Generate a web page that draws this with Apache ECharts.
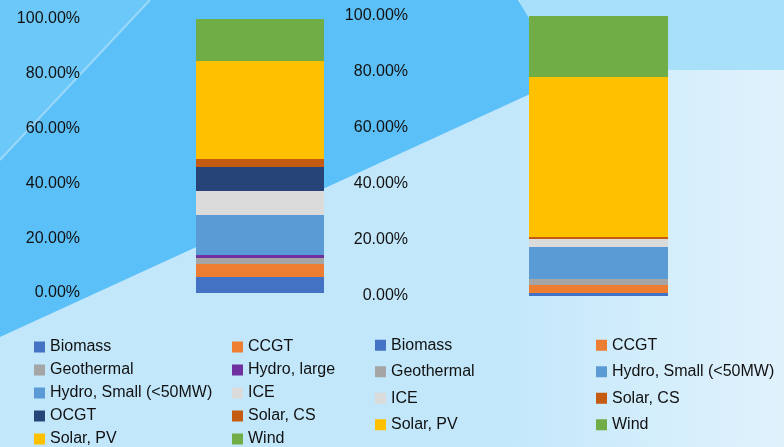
<!DOCTYPE html>
<html>
<head>
    <meta charset="utf-8">
    <script src="https://cdn.jsdelivr.net/npm/echarts@6/dist/echarts.min.js"></script>
    <style>
        html, body { margin: 0; padding: 0; }
    </style>
</head>
<body>
    <div id="main" style="width:784px;height:447px;"></div>
    <script type="text/javascript">
        // 数据
        var leftNames = ['Biomass', 'CCGT', 'Geothermal', 'Hydro, large', 'Hydro, Small (<50MW)',
                         'ICE', 'OCGT', 'Solar, CS', 'Solar, PV', 'Wind'];
        var leftValues = [5.8, 4.8, 2.2, 1.1, 14.6, 8.7, 8.8, 2.9, 35.8, 15.3];

        var rightNames = ['Biomass', 'CCGT', 'Geothermal', 'Hydro, Small (<50MW)',
                          'ICE', 'Solar, CS', 'Solar, PV', 'Wind'];
        var rightValues = [1.1, 2.8, 2.2, 11.4, 2.9, 0.7, 57.1, 21.8];

        var yTicks = [0, 20, 40, 60, 80, 100];

        var colors = {
            'Biomass': '#4472C4',
            'CCGT': '#ED7D31',
            'Geothermal': '#A5A5A5',
            'Hydro, large': '#7030A0',
            'Hydro, Small (<50MW)': '#5B9BD5',
            'ICE': '#DBDBDB',
            'OCGT': '#264478',
            'Solar, CS': '#C55A11',
            'Solar, PV': '#FFC000',
            'Wind': '#70AD47'
        };

        var myChart = echarts.init(document.getElementById('main'));

        function makeSeries(names, values, idx) {
            return names.map(function (n, i) {
                return {
                    name: n,
                    type: 'bar',
                    stack: 'total' + idx,
                    xAxisIndex: idx,
                    yAxisIndex: idx,
                    barWidth: '100%',
                    itemStyle: { color: colors[n] },
                    data: [values[i]]
                };
            });
        }

        function yAxisFor(idx, margin) {
            return {
                type: 'value',
                gridIndex: idx,
                min: yTicks[0],
                max: yTicks[yTicks.length - 1],
                interval: 20,
                axisLine: { show: false },
                axisTick: { show: false },
                splitLine: { show: false },
                axisLabel: {
                    margin: margin,
                    color: '#111',
                    fontFamily: 'Liberation Sans',
                    fontSize: 16,
                    formatter: function (v) { return v.toFixed(2) + '%'; }
                }
            };
        }

        // 图例按两列排布（奇偶分列）
        function column(names, odd) {
            return names.filter(function (n, i) { return i % 2 === (odd ? 1 : 0); });
        }

        function legendCol(names, left, top, gap, lh) {
            return {
                data: names,
                orient: 'vertical',
                left: left,
                top: top,
                itemWidth: 11,
                itemHeight: 11,
                itemGap: gap,
                padding: 0,
                selectedMode: false,
                icon: 'rect',
                textStyle: {
                    color: '#111',
                    fontFamily: 'Liberation Sans',
                    fontSize: 16,
                    lineHeight: lh
                }
            };
        }

        var option = {
            animation: false,
            graphic: [
                { type: 'rect', silent: true, z: -10, shape: { x: 0, y: 0, width: 784, height: 447 },
                  style: { fill: '#c2e7fb' } },
                { type: 'rect', silent: true, z: -9, shape: { x: 500, y: 70, width: 284, height: 377 },
                  style: { fill: new echarts.graphic.LinearGradient(0, 0, 1, 0, [
                      { offset: 0, color: '#c2e7fb' }, { offset: 0.5, color: '#d2edfb' }, { offset: 1, color: '#e0f2fc' }]) } },
                { type: 'rect', silent: true, z: -9, shape: { x: 520, y: 0, width: 264, height: 70 },
                  style: { fill: '#a8e0fa' } },
                { type: 'polygon', silent: true, z: -8,
                  shape: { points: [[0, 0], [518, 0], [565, 78], [0, 337]] },
                  style: { fill: '#5cc0f8' } },
                { type: 'polygon', silent: true, z: -7,
                  shape: { points: [[0, 0], [150, 0], [0, 160]] },
                  style: { fill: '#6cc8f8' } },
                { type: 'line', silent: true, z: -7,
                  shape: { x1: 0, y1: 160, x2: 150, y2: 0 },
                  style: { stroke: 'rgba(255,255,255,0.35)', lineWidth: 2 } }
            ],
            grid: [
                { left: 196, top: 19, width: 128, height: 274 },
                { left: 529, top: 16, width: 139, height: 280 }
            ],
            xAxis: [
                { type: 'category', gridIndex: 0, data: ['A'], show: false },
                { type: 'category', gridIndex: 1, data: ['B'], show: false }
            ],
            yAxis: [yAxisFor(0, 116), yAxisFor(1, 121)],
            legend: [
                legendCol(column(leftNames, false), 34, 339, 7, 15.5),
                legendCol(column(leftNames, true), 232, 339, 7, 15.5),
                legendCol(column(rightNames, false), 375, 337, 10, 16.5),
                legendCol(column(rightNames, true), 596, 337, 10, 16.5)
            ],
            series: makeSeries(leftNames, leftValues, 0).concat(makeSeries(rightNames, rightValues, 1))
        };
        myChart.setOption(option);
    </script>
</body>
</html>
